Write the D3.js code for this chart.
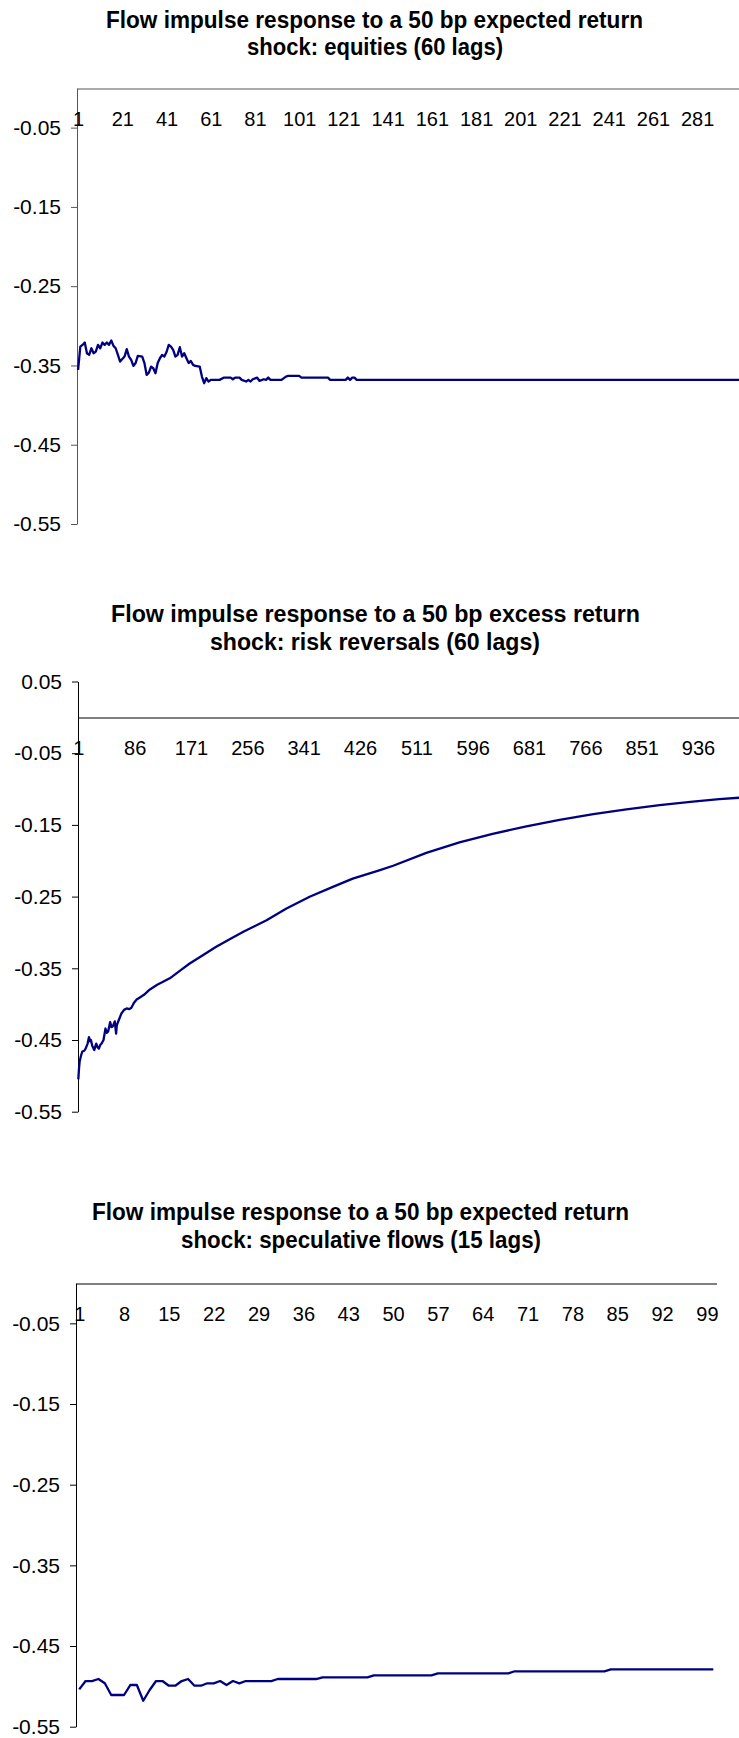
<!DOCTYPE html>
<html><head><meta charset="utf-8">
<script src="https://cdn.jsdelivr.net/npm/d3@7/dist/d3.min.js"></script>
<style>
html,body{margin:0;padding:0;background:#fff;}
svg{display:block;}
text{font-family:"Liberation Sans",Arial,Helvetica,sans-serif;}
</style></head><body>
<svg id="chart" width="739" height="1738"></svg>
<script>
// ---------- Chart 1: equities ----------
const eqTitle = ["Flow impulse response to a 50 bp expected return", "shock: equities (60 lags)"];
const eqCount = 300;
const eqXTicks = [1, 21, 41, 61, 81, 101, 121, 141, 161, 181, 201, 221, 241, 261, 281];
const eqYTicks = [-0.55, -0.45, -0.35, -0.25, -0.15, -0.05];
const eqLags = [1,2,3,4,5,6,7,8,9,10,11,12,13,14,15,16,17,18,19,20,22,23,24,25,26,27,28,30,31,32,33,34,35,36,37,38,39,40,41,42,43,44,45,46,47,48,49,50,51,52,53,54,56,57,58,59,60,61,65,67,70,71,72,74,75,77,78,79,80,82,83,85,86,87,88,93,95,96,101,102,114,115,122,123,124,125,126,127,300];
const eqVals = [-0.3556,-0.3262,-0.3241,-0.3211,-0.3346,-0.3367,-0.3283,-0.3346,-0.3325,-0.3240,-0.3283,-0.3211,-0.3240,-0.3211,-0.3240,-0.3186,-0.3253,-0.3283,-0.3367,-0.3451,-0.3388,-0.3295,-0.3388,-0.3430,-0.3506,-0.3470,-0.3380,-0.3388,-0.3470,-0.3619,-0.3590,-0.3514,-0.3535,-0.3598,-0.3470,-0.3409,-0.3367,-0.3388,-0.3330,-0.3240,-0.3262,-0.3304,-0.3388,-0.3367,-0.3270,-0.3388,-0.3346,-0.3409,-0.3470,-0.3443,-0.3493,-0.3506,-0.3514,-0.3640,-0.3724,-0.3660,-0.3703,-0.3682,-0.3682,-0.3653,-0.3653,-0.3674,-0.3653,-0.3653,-0.3682,-0.3703,-0.3682,-0.3703,-0.3674,-0.3653,-0.3695,-0.3674,-0.3682,-0.3653,-0.3682,-0.3682,-0.3640,-0.3632,-0.3632,-0.3653,-0.3653,-0.3682,-0.3682,-0.3653,-0.3682,-0.3653,-0.3653,-0.3682,-0.3682];

// ---------- Chart 2: risk reversals ----------
const rrTitle = ["Flow impulse response to a 50 bp excess return", "shock: risk reversals (60 lags)"];
const rrCount = 1000;
const rrXTicks = [1, 86, 171, 256, 341, 426, 511, 596, 681, 766, 851, 936];
const rrYTicks = [-0.55, -0.45, -0.35, -0.25, -0.15, -0.05, 0.05];
const rrLags = [1,2,3,5,7,10,12,15,17,19,20,22,25,28,30,32,34,36,39,42,44,46,49,51,53,56,58,59,60,63,66,70,74,78,81,85,89,95,100,109,120,139,155,169,190,209,230,250,285,315,350,385,415,455,476,526,576,626,677,727,778,828,878,928,968,1000];
const rrVals = [-0.505,-0.490,-0.480,-0.472,-0.466,-0.465,-0.462,-0.455,-0.446,-0.452,-0.450,-0.458,-0.464,-0.455,-0.460,-0.462,-0.457,-0.455,-0.450,-0.434,-0.440,-0.438,-0.425,-0.432,-0.431,-0.424,-0.441,-0.430,-0.427,-0.420,-0.413,-0.408,-0.406,-0.407,-0.405,-0.398,-0.3935,-0.390,-0.387,-0.3795,-0.373,-0.364,-0.353,-0.3433,-0.331,-0.320,-0.309,-0.299,-0.283,-0.2666,-0.2503,-0.2364,-0.2250,-0.2135,-0.2070,-0.1890,-0.1745,-0.1625,-0.1520,-0.1430,-0.1350,-0.1282,-0.1225,-0.1175,-0.1140,-0.1120];

// ---------- Chart 3: speculative flows ----------
const spTitle = ["Flow impulse response to a 50 bp expected return", "shock: speculative flows (15 lags)"];
const spCount = 100;
const spXTicks = [1, 8, 15, 22, 29, 36, 43, 50, 57, 64, 71, 78, 85, 92, 99];
const spYTicks = [-0.55, -0.45, -0.35, -0.25, -0.15, -0.05];
const spLags = [1,2,3,4,5,6,7,8,9,10,11,12,13,14,15,16,17,18,19,20,21,22,23,24,25,26,27,31,32,38,39,46,47,56,57,68,69,83,84,100];
const spVals = [-0.5037,-0.4934,-0.4934,-0.4909,-0.4962,-0.5107,-0.5107,-0.5107,-0.4983,-0.4983,-0.5178,-0.5045,-0.4934,-0.4934,-0.4992,-0.4992,-0.4934,-0.4909,-0.4992,-0.4992,-0.4962,-0.4962,-0.4934,-0.4983,-0.4934,-0.4962,-0.4934,-0.4934,-0.4909,-0.4909,-0.4888,-0.4888,-0.4863,-0.4863,-0.4838,-0.4838,-0.4813,-0.4813,-0.4789,-0.4789];

const svg = d3.select("#chart");
const LINE = "#000080";

function drawChart(o) {
  const g = svg.append("g");
  const x = d3.scaleLinear().domain([0.5, o.n + 0.5]).range([o.left, o.right]);
  const y = d3.scaleLinear().domain([o.yMin, o.yMax]).range([o.bottom, o.top]);

  o.title.forEach((t, i) => {
    g.append("text")
      .attr("x", o.tx[i]).attr("y", o.ty[i])
      .attr("textLength", o.tw[i]).attr("lengthAdjust", "spacingAndGlyphs")
      .attr("font-weight", "bold").attr("font-size", 23).attr("fill", "#000")
      .text(t);
  });

  const ya = d3.axisLeft(y).tickValues(o.yTicks).tickFormat(d => d.toFixed(2))
    .tickSize(6).tickSizeOuter(0).tickPadding(10);
  const yg = g.append("g").attr("transform", `translate(${o.left},0)`).call(ya);
  yg.attr("font-size", 21).attr("font-family", null);
  yg.selectAll("path,line").attr("stroke", o.axisColor);
  yg.selectAll("text").attr("fill", "#000");

  const xa = d3.axisBottom(x).tickValues(o.xTicks).tickFormat(d => String(d))
    .tickSize(0).tickSizeOuter(0).tickPadding(23);
  const xg = g.append("g").attr("transform", `translate(0,${Math.round(y(0)) + 0.5})`).call(xa);
  xg.attr("font-size", 20).attr("font-family", null);
  xg.selectAll("path").attr("stroke", o.axisColor);
  xg.selectAll("text").attr("fill", "#000").attr("dy", null).attr("y", 37);

  const pts = d3.zip(o.lags, o.vals);
  g.append("path").datum(pts)
    .attr("fill", "none").attr("stroke", LINE).attr("stroke-width", 2.3)
    .attr("stroke-linejoin", "round")
    .attr("d", d3.line().x(d => x(d[0])).y(d => y(d[1])));
}

drawChart({
  title: eqTitle, tx: [106, 247], ty: [28, 55], tw: [537, 256],
  n: eqCount, left: 77, right: 77 + 300 * 2.211, top: 88, bottom: 524,
  yMin: -0.55, yMax: 0, yTicks: eqYTicks, xTicks: eqXTicks,
  lags: eqLags, vals: eqVals, axisColor: "#555"
});
drawChart({
  title: rrTitle, tx: [111, 210], ty: [622, 650], tw: [529, 330],
  n: rrCount, left: 78, right: 78 + 1000 * 0.6628, top: 681.5, bottom: 1111.7,
  yMin: -0.55, yMax: 0.05, yTicks: rrYTicks, xTicks: rrXTicks,
  lags: rrLags, vals: rrVals, axisColor: "#000"
});
drawChart({
  title: spTitle, tx: [92, 181], ty: [1220, 1248], tw: [537, 360],
  n: spCount, left: 76, right: 716.5, top: 1283, bottom: 1726.7,
  yMin: -0.55, yMax: 0, yTicks: spYTicks, xTicks: spXTicks,
  lags: spLags, vals: spVals, axisColor: "#000"
});
</script>
</body></html>
